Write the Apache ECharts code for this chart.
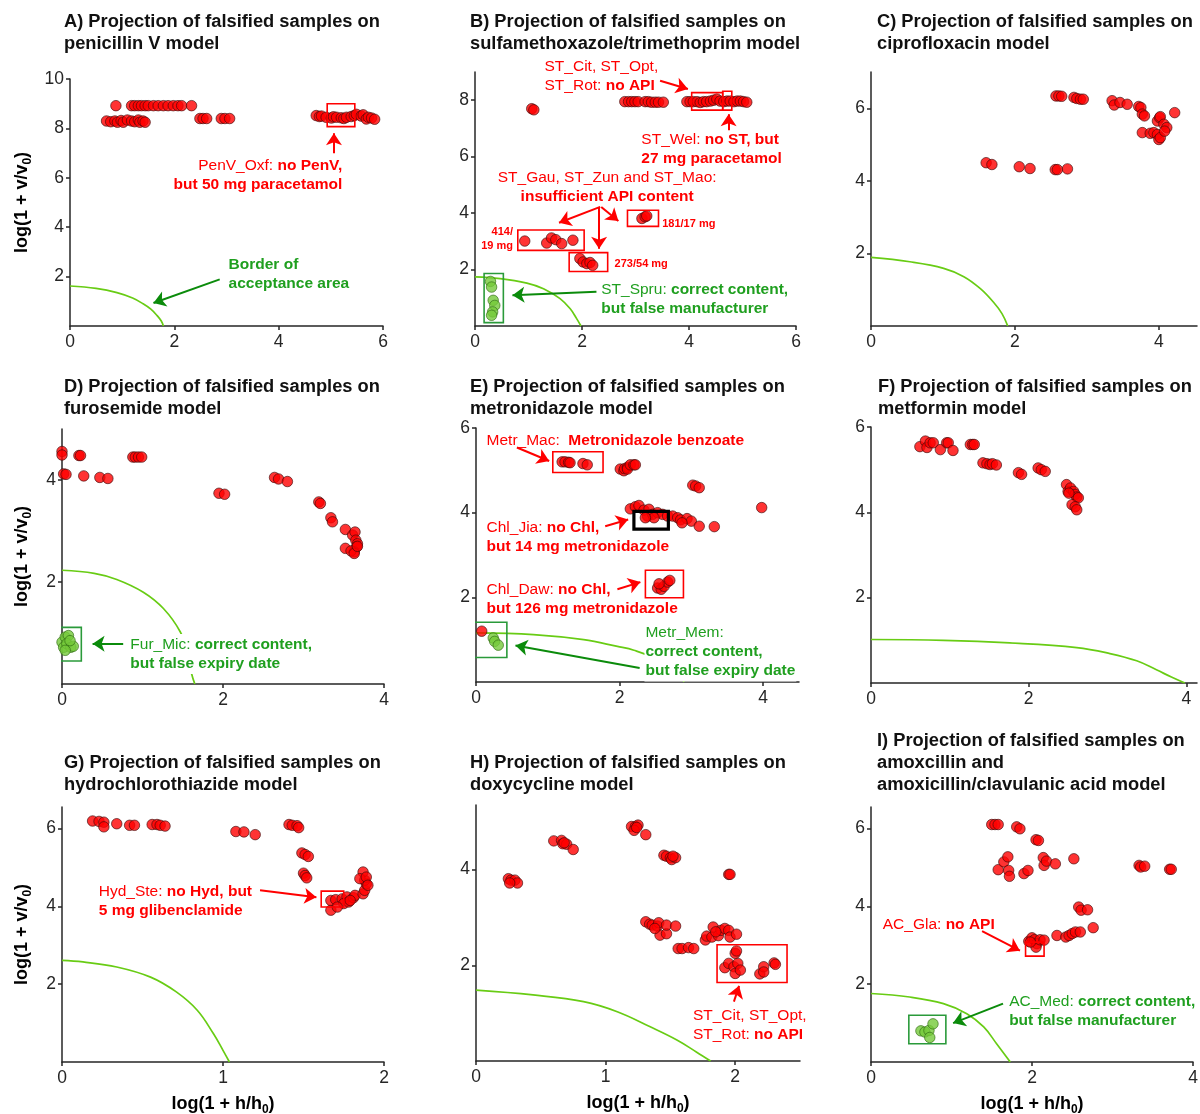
<!DOCTYPE html>
<html><head><meta charset="utf-8">
<script src="https://cdn.jsdelivr.net/npm/echarts@6/dist/echarts.min.js"></script>
<style>html,body{margin:0;padding:0;background:#fff}#c{width:1200px;height:1114px}</style>
</head><body><div id="c"></div>
<script>
// ---------------- data ----------------
const penvRed = [
[0.70,8.30],[0.78,8.27],[0.86,8.30],[0.91,8.25],[0.98,8.32],[1.02,8.25],[1.10,8.34],[1.18,8.30],[1.24,8.27],[1.31,8.34],[1.34,8.25],[1.40,8.30],[1.44,8.25],
[0.88,8.92],[1.18,8.92],[1.24,8.92],[1.31,8.92],[1.37,8.92],[1.44,8.92],[1.50,8.92],[1.60,8.92],[1.69,8.92],[1.79,8.92],[1.88,8.92],[1.98,8.92],[2.07,8.92],[2.14,8.92],[2.33,8.92],
[2.49,8.40],[2.55,8.40],[2.62,8.40],[2.90,8.40],[2.97,8.40],[3.06,8.40],
[4.72,8.52],[4.78,8.48],[4.82,8.50],[4.91,8.45],[5.01,8.42],[5.05,8.47],[5.11,8.45],[5.20,8.43],[5.25,8.40],[5.30,8.45],[5.39,8.48],[5.45,8.52],[5.49,8.57],[5.58,8.50],[5.62,8.55],[5.68,8.38],[5.72,8.45],[5.78,8.42],[5.84,8.37]
];
const penvBorder = [[0,1.62],[0.5,1.52],[0.9,1.35],[1.2,1.13],[1.4,0.90],[1.55,0.68],[1.67,0.42],[1.75,0.20],[1.79,0]];

const stRed = [
[1.06,7.70],[1.10,7.66],
[2.80,7.95],[2.87,7.95],[2.93,7.95],[2.99,7.95],[3.05,7.95],
[3.18,7.95],[3.24,7.95],[3.30,7.93],[3.37,7.93],[3.43,7.93],[3.52,7.93],
[3.96,7.95],[4.02,7.95],[4.08,7.95],[4.15,7.95],[4.21,7.92],[4.27,7.95],[4.33,7.95],[4.40,7.97],[4.46,8.00],[4.52,8.04],[4.58,7.97],[4.65,7.95],[4.71,7.97],[4.77,7.97],[4.84,7.95],[4.90,7.97],[4.96,7.97],[5.02,7.95],[5.08,7.93],
[3.12,3.81],[3.18,3.87],[3.21,3.90],
[0.93,3.01],[1.34,2.94],[1.43,3.12],[1.51,3.06],[1.62,2.92],[1.83,3.04],
[1.96,2.39],[2.02,2.27],[2.09,2.21],[2.15,2.25],[2.20,2.15]
];
const stGreen = [[0.29,1.58],[0.31,1.38],[0.34,0.91],[0.37,0.73],[0.33,0.50],[0.31,0.38]];
const stBorder = [[0,1.74],[0.47,1.68],[0.97,1.52],[1.28,1.32],[1.59,0.97],[1.78,0.61],[1.90,0.26],[1.98,0]];

const ciproRed = [
[2.57,6.34],[2.61,6.34],[2.65,6.33],[2.82,6.30],[2.86,6.27],[2.91,6.25],[2.95,6.25],
[3.35,6.21],[3.38,6.09],[3.46,6.16],[3.56,6.11],
[3.72,6.05],[3.75,6.02],[3.77,5.84],[3.80,5.79],
[3.77,5.33],[3.88,5.31],[3.93,5.33],[3.98,5.28],[4.00,5.14],[4.02,5.19],[3.98,5.65],[4.01,5.74],[4.02,5.77],[4.07,5.56],[4.11,5.47],[4.08,5.37],[4.22,5.88],
[1.60,4.50],[1.68,4.45],[2.06,4.39],[2.21,4.34],[2.56,4.31],[2.59,4.31],[2.73,4.33]
];
const ciproBorder = [[0,1.89],[0.54,1.77],[1.01,1.59],[1.29,1.36],[1.52,1.03],[1.70,0.66],[1.82,0.34],[1.90,0]];

const furoRed = [
[0.00,4.56],[0.00,4.49],[0.02,4.12],[0.05,4.11],[0.21,4.48],[0.23,4.48],[0.27,4.08],[0.47,4.05],[0.57,4.03],
[0.88,4.45],[0.91,4.45],[0.95,4.45],[0.99,4.45],
[1.95,3.74],[2.02,3.72],
[2.64,4.05],[2.69,4.02],[2.80,3.97],
[3.19,3.57],[3.21,3.54],
[3.34,3.26],[3.36,3.18],
[3.52,3.03],[3.52,2.66],[3.61,2.92],[3.64,2.98],[3.65,2.82],[3.67,2.75],[3.66,2.69],[3.63,2.59],[3.59,2.61],[3.63,2.56],[3.67,2.70]
];
const furoGreen = [[0.00,0.82],[0.04,0.92],[0.08,0.95],[0.02,0.72],[0.06,0.79],[0.11,0.72],[0.14,0.74],[0.10,0.85],[0.04,0.66]];
const furoBorder = [[0,2.23],[0.40,2.17],[0.68,2.05],[1.01,1.80],[1.26,1.48],[1.47,1.02],[1.56,0.60],[1.61,0.20],[1.65,0]];

const metroRed = [
[1.20,5.20],[1.24,5.20],[1.29,5.19],[1.31,5.18],[1.49,5.16],[1.55,5.13],
[2.01,5.03],[2.06,4.99],[2.07,5.04],[2.11,5.07],[2.11,5.03],[2.15,5.13],[2.20,5.13],[2.22,5.13],
[3.02,4.65],[3.06,4.63],[3.11,4.59],
[3.98,4.12],
[2.15,4.09],[2.22,4.14],[2.27,4.17],[2.34,4.06],[2.41,4.08],[2.39,3.92],[2.46,3.96],[2.53,4.00],[2.60,3.96],[2.67,3.92],[2.74,3.92],[2.81,3.88],[2.85,3.83],[2.94,3.86],[3.00,3.80],[3.11,3.68],[3.32,3.67],[2.87,3.76],[2.48,3.88],[2.36,3.88],
[2.53,2.22],[2.58,2.19],[2.62,2.26],[2.67,2.36],[2.70,2.40],[2.55,2.32],
[0.08,1.20]
];
const metroGreen = [[0.24,1.04],[0.26,0.96],[0.31,0.87]];
const metroBorder = [[0,1.16],[0.80,1.12],[1.50,1.00],[1.97,0.84],[2.20,0.75],[2.57,0.50],[2.81,0.21],[2.90,0]];

const metfRed = [
[0.62,5.54],[0.69,5.67],[0.71,5.52],[0.75,5.63],[0.79,5.63],[0.88,5.47],[0.96,5.63],[0.98,5.63],[1.04,5.45],
[1.26,5.59],[1.29,5.59],[1.31,5.59],
[1.42,5.16],[1.47,5.14],[1.51,5.12],[1.54,5.14],[1.59,5.11],
[1.87,4.93],[1.91,4.89],
[2.12,5.04],[2.16,5.00],[2.21,4.96],
[2.48,4.65],[2.50,4.49],[2.53,4.57],[2.57,4.49],[2.59,4.42],[2.61,4.36],[2.63,4.34],[2.55,4.18],[2.59,4.13],[2.61,4.06],[2.51,4.45]
];
const metfBorder = [[0,1.02],[0.92,1.00],[1.76,0.94],[2.61,0.83],[3.03,0.69],[3.37,0.52],[3.62,0.31],[3.81,0.14],[3.98,0]];

const hydRed = [
[0.19,6.19],[0.23,6.18],[0.26,6.16],[0.26,6.04],[0.34,6.12],[0.42,6.08],[0.45,6.08],[0.56,6.10],[0.59,6.10],[0.61,6.08],[0.64,6.06],
[1.08,5.92],[1.13,5.91],[1.20,5.84],
[1.41,6.10],[1.43,6.08],[1.46,6.07],[1.47,6.02],
[1.49,5.37],[1.51,5.33],[1.53,5.28],
[1.50,4.85],[1.51,4.79],[1.52,4.73],
[1.67,3.90],[1.67,4.15],[1.70,4.17],[1.74,4.19],[1.77,4.24],[1.75,4.07],[1.78,4.11],[1.81,4.22],[1.82,4.28],[1.87,4.32],[1.88,4.41],[1.89,4.58],[1.88,4.67],[1.87,4.88],[1.85,4.71],[1.89,4.75],[1.90,4.54],[1.71,3.98],[1.79,4.15]
];
const hydBorder = [[0,2.61],[0.13,2.57],[0.34,2.44],[0.55,2.18],[0.71,1.80],[0.84,1.33],[0.94,0.73],[1.00,0.30],[1.04,0]];

const doxyRed = [
[0.25,3.81],[0.27,3.78],[0.30,3.78],[0.32,3.72],[0.26,3.72],
[0.60,4.60],[0.66,4.61],[0.67,4.54],[0.70,4.53],[0.75,4.42],[0.68,4.56],
[1.20,4.90],[1.23,4.90],[1.25,4.93],[1.22,4.82],[1.24,4.88],[1.31,4.73],
[1.45,4.30],[1.47,4.28],[1.50,4.25],[1.51,4.21],[1.54,4.25],[1.52,4.28],
[1.95,3.90],[1.96,3.90],
[1.31,2.91],[1.34,2.86],[1.36,2.84],[1.40,2.82],[1.41,2.89],[1.42,2.63],[1.47,2.66],[1.47,2.84],[1.54,2.82],[1.38,2.77],
[1.56,2.35],[1.59,2.35],[1.64,2.37],[1.68,2.35],
[1.77,2.53],[1.78,2.61],[1.82,2.59],[1.83,2.80],[1.87,2.62],[1.89,2.73],[1.92,2.77],[1.95,2.73],[1.96,2.59],[2.01,2.65],[1.85,2.70],
[1.92,1.95],[1.95,2.04],[1.99,1.97],[2.00,1.83],[2.02,2.04],[2.04,1.90],[2.00,2.25],[2.01,2.30],[2.19,1.82],[2.22,1.97],[2.22,1.86],[2.30,2.05],[2.31,2.02]
];
const doxyBorder = [[0,1.48],[0.44,1.38],[0.83,1.24],[1.09,1.03],[1.34,0.72],[1.55,0.44],[1.70,0.19],[1.81,0]];

const amoxRed = [
[1.50,6.10],[1.54,6.10],[1.58,6.10],
[1.81,6.04],[1.85,5.99],
[2.05,5.71],[2.08,5.69],
[1.58,4.94],[1.65,5.14],[1.70,5.27],[1.71,4.92],[1.72,4.77],[1.90,4.84],[1.95,4.92],
[2.14,5.25],[2.15,5.05],[2.18,5.16],[2.29,5.09],[2.52,5.22],
[3.33,5.05],[3.35,5.01],[3.40,5.03],[3.71,4.95],[3.73,4.95],
[2.58,3.98],[2.61,3.90],[2.69,3.91],[2.76,3.45],
[1.96,3.10],[2.00,3.19],[2.03,3.14],[2.06,3.04],[2.05,2.95],[2.10,3.14],[2.15,3.13],[2.31,3.25],[2.42,3.21],[2.46,3.25],[2.50,3.30],[2.54,3.34],[2.60,3.34],[1.98,3.08]
];
const amoxGreen = [[0.62,0.80],[0.67,0.77],[0.72,0.81],[0.73,0.63],[0.77,0.98]];
const amoxBorder = [[0,1.76],[0.48,1.67],[0.90,1.50],[1.19,1.24],[1.40,0.90],[1.56,0.47],[1.73,0]];

// tick labels
const ticks0246 = [0,2,4,6];
const ticks024 = [0,2,4];
const ticks012 = [0,1,2];
const yTicksA = [2,4,6,8,10];
const yTicks2468 = [2,4,6,8];
const yTicks246 = [2,4,6];
const yTicks24 = [2,4];

const titles = [
 'A) Projection of falsified samples on\npenicillin V model',
 'B) Projection of falsified samples on\nsulfamethoxazole/trimethoprim model',
 'C) Projection of falsified samples on\nciprofloxacin model',
 'D) Projection of falsified samples on\nfurosemide model',
 'E) Projection of falsified samples on\nmetronidazole model',
 'F) Projection of falsified samples on\nmetformin model',
 'G) Projection of falsified samples on\nhydrochlorothiazide model',
 'H) Projection of falsified samples on\ndoxycycline model',
 'I) Projection of falsified samples on\namoxcillin and\namoxicillin/clavulanic acid model'
];

// ---------------- styles ----------------
const FF = '"Liberation Sans", Arial, Helvetica, sans-serif';
const AX = '#262626';
const RED = '#ff0000', GTXT = '#1f9f1f', GARW = '#0b8b0b', GBOX = '#2a9a3a', CURVE = '#68cc14';
const FS = 15.5, LH = 19;
const rich = {
  n:{color:RED,fontSize:FS,lineHeight:LH,fontFamily:FF},
  b:{color:RED,fontSize:FS,lineHeight:LH,fontFamily:FF,fontWeight:'bold'},
  g:{color:GTXT,fontSize:FS,lineHeight:LH,fontFamily:FF},
  gb:{color:GTXT,fontSize:FS,lineHeight:LH,fontFamily:FF,fontWeight:'bold'},
  s:{color:RED,fontSize:11,lineHeight:14,fontFamily:FF,fontWeight:'bold'}
};
function txt(x,y,fmt,pos,bg){
  return {coord:[x,y], symbol:'circle', symbolSize:1, itemStyle:{color:'rgba(0,0,0,0)'},
    label:{show:true, position:pos||'right', distance:0, formatter:fmt, rich:rich,
      backgroundColor: bg ? '#ffffff' : 'transparent', padding: bg ? [1,1,1,1] : 0}};
}
function arrow(x1,y1,x2,y2,c){ return [{coord:[x1,y1], lineStyle:{color:c||RED,width:2,type:'solid'}},{coord:[x2,y2]}]; }
function box(x1,y1,x2,y2,c,w){ return {rect:[[x1,y1],[x2,y1],[x2,y2],[x1,y2],[x1,y1]], color:c||RED, width:w||1.6}; }

const panels = [
 {grid:{left:70,top:79,width:313,height:247}, xMax:6, yMax:10, xt:ticks0246, yt:yTicksA, red:penvRed, green:null, border:penvBorder, tl:[64,11],
  boxes:[box(4.93,8.07,5.46,9.0)],
  arrows:[arrow(5.06,6.99,5.06,7.80), arrow(2.87,1.89,1.60,0.93,GARW)],
  texts:[txt(5.23,6.09,'{n|PenV_Oxf: }{b|no PenV,}\n{b|but 50 mg paracetamol}','left'),
         txt(3.03,2.11,'{gb|Border of}\n{gb|acceptance area}','right')]},
 {grid:{left:475,top:72,width:321,height:254}, xMax:6, yMax:9, xt:ticks0246, yt:yTicks2468, red:stRed, green:stGreen, border:stBorder, tl:[470,11],
  boxes:[box(4.05,7.65,4.63,8.27),box(4.63,7.65,4.80,8.32),box(2.85,3.53,3.43,4.10),box(0.80,2.68,2.04,3.40),box(1.76,1.93,2.48,2.60),box(0.17,0.12,0.53,1.86,GBOX)],
  arrows:[arrow(3.46,8.69,3.98,8.40),arrow(4.74,6.94,4.74,7.50),arrow(2.34,4.22,1.57,3.66),arrow(2.32,4.22,2.32,2.74),arrow(2.36,4.22,2.68,3.72),arrow(2.27,1.21,0.70,1.09,GARW)],
  texts:[txt(1.29,8.86,'{n|ST_Cit, ST_Opt,}\n{n|ST_Rot: }{b|no API}','right'),
         txt(3.10,6.26,'{n|ST_Wel: }{b|no ST, but}\n{b|27 mg paracetamol}','right'),
         txt(2.47,4.90,'{n|ST_Gau, ST_Zun and ST_Mao:}\n{b|insufficient API content}','inside'),
         txt(3.49,3.63,'{s|181/17 mg}','right'),
         txt(0.72,3.07,'{s|414/}\n{s|19 mg}','left'),
         txt(2.60,2.21,'{s|273/54 mg}','right'),
         txt(2.35,0.95,'{g|ST_Spru: }{gb|correct content,}\n{gb|but false manufacturer}','right')]},
 {grid:{left:871,top:72,width:326,height:254}, xMax:4.53, yMax:7, xt:ticks024, yt:yTicks246, red:ciproRed, green:null, border:ciproBorder, tl:[877,11],
  boxes:[], arrows:[], texts:[]},
 {grid:{left:62,top:429,width:322,height:255}, xMax:4, yMax:5, xt:ticks024, yt:yTicks24, red:furoRed, green:furoGreen, border:furoBorder, tl:[64,376],
  boxes:[box(-0.12,0.45,0.24,1.11,GBOX)],
  arrows:[arrow(0.76,0.79,0.38,0.79,GARW)],
  texts:[txt(0.83,0.59,'{g|Fur_Mic: }{gb|correct content,}\n{gb|but false expiry date}','right',true)]},
 {grid:{left:476,top:428,width:323,height:254}, xMax:4.5, yMax:6, xt:ticks024, yt:yTicks246, red:metroRed, green:metroGreen, border:metroBorder, tl:[470,376],
  boxes:[box(1.07,4.95,1.77,5.44),box(2.20,3.61,2.68,4.03,'#000000',3.2),box(2.36,1.99,2.89,2.64),box(-0.07,0.58,0.43,1.41,GBOX)],
  arrows:[arrow(0.57,5.54,1.02,5.22),arrow(1.80,3.68,2.12,3.84),arrow(1.97,2.19,2.29,2.36),arrow(2.28,0.33,0.55,0.86,GARW)],
  texts:[txt(0.14,5.70,'{n|Metr_Mac:  }{b|Metronidazole benzoate}','right'),
         txt(0.14,3.41,'{n|Chl_Jia: }{b|no Chl,}\n{b|but 14 mg metronidazole}','right'),
         txt(0.14,1.96,'{n|Chl_Daw: }{b|no Chl,}\n{b|but 126 mg metronidazole}','right'),
         txt(2.34,0.71,'{g|Metr_Mem:}\n{gb|correct content,}\n{gb|but false expiry date}','right',true)]},
 {grid:{left:871,top:427,width:326,height:256}, xMax:4.135, yMax:6, xt:ticks024, yt:yTicks246, red:metfRed, green:null, border:metfBorder, tl:[878,376],
  boxes:[], arrows:[], texts:[]},
 {grid:{left:62,top:807,width:322,height:255}, xMax:2, yMax:6.55, xt:ticks012, yt:yTicks246, red:hydRed, green:null, border:hydBorder, tl:[64,752],
  boxes:[box(1.61,3.98,1.75,4.39)],
  arrows:[arrow(1.23,4.41,1.58,4.23)],
  texts:[txt(0.225,4.14,'{n|Hyd_Ste: }{b|no Hyd, but}\n{b|5 mg glibenclamide}','right')]},
 {grid:{left:476,top:805,width:324,height:256}, xMax:2.5, yMax:5.35, xt:ticks012, yt:yTicks24, red:doxyRed, green:null, border:doxyBorder, tl:[470,752],
  boxes:[box(1.86,1.64,2.40,2.43)],
  arrows:[arrow(1.99,1.24,2.03,1.57)],
  texts:[txt(1.67,0.75,'{n|ST_Cit, ST_Opt,}\n{n|ST_Rot: }{b|no API}','right')]},
 {grid:{left:871,top:807,width:322,height:255}, xMax:4, yMax:6.55, xt:ticks024, yt:yTicks246, red:amoxRed, green:amoxGreen, border:amoxBorder, tl:[877,730],
  boxes:[box(1.92,2.72,2.15,3.08),box(0.47,0.47,0.93,1.20,GBOX)],
  arrows:[arrow(1.38,3.36,1.85,2.86),arrow(1.64,1.50,1.02,1.00,GARW)],
  texts:[txt(0.14,3.53,'{n|AC_Gla: }{b|no API}','right'),
         txt(1.71,1.30,'{g|AC_Med: }{gb|correct content,}\n{gb|but false manufacturer}','right')]}
];

const nameRich = {
  a:{fontSize:18,fontWeight:'bold',color:'#000',lineHeight:24,fontFamily:FF},
  s:{fontSize:12,fontWeight:'bold',color:'#000',lineHeight:12,verticalAlign:'bottom',fontFamily:FF}
};

const option = {animation:false, backgroundColor:'#ffffff', textStyle:{fontFamily:FF},
  title:[], grid:[], xAxis:[], yAxis:[], series:[]};

panels.forEach((p,i)=>{
  option.title.push({text:titles[i], left:p.tl[0], top:p.tl[1], padding:0,
    textStyle:{fontSize:18.3,fontWeight:'bold',color:'#111',lineHeight:22,fontFamily:FF}});
  option.grid.push(Object.assign({containLabel:false, outerBoundsMode:'none'}, p.grid));
  const col = i%3, row = Math.floor(i/3);
  const axisCommon = {
    axisLine:{show:true,onZero:false,lineStyle:{color:AX,width:1.5}},
    splitLine:{show:false}
  };
  option.xAxis.push(Object.assign({type:'value', gridIndex:i, min:0, max:p.xMax,
    axisTick:{show:true,length:4,lineStyle:{color:AX,width:1.5},customValues:p.xt},
    axisLabel:{color:AX,fontSize:17.5,margin:7,fontFamily:FF,customValues:p.xt},
    name: row===2 ? '{a|log(1 + h/h}{s|0}{a|)}' : '',
    nameLocation:'middle', nameGap:30, nameTextStyle:{rich:nameRich}
  }, axisCommon));
  option.yAxis.push(Object.assign({type:'value', gridIndex:i, min:0, max:p.yMax,
    axisTick:{show:true,length:4,lineStyle:{color:AX,width:1.5},customValues:p.yt},
    axisLabel:{color:AX,fontSize:17.5,margin:6,fontFamily:FF,customValues:p.yt},
    name: col===0 ? '{a|log(1 + v/v}{s|0}{a|)}' : '',
    nameLocation:'middle', nameRotate:90, nameGap: (i===0 ? 36 : 28), nameTextStyle:{rich:nameRich}
  }, axisCommon));
  option.series.push({type:'line', xAxisIndex:i, yAxisIndex:i, data:p.border, smooth:0.4,
    showSymbol:false, symbol:'none', silent:true, z:2, clip:true, lineStyle:{color:CURVE,width:1.7}});
  if (p.green) option.series.push({type:'scatter', xAxisIndex:i, yAxisIndex:i, data:p.green, symbolSize:10.5, silent:true, z:3, clip:false,
    itemStyle:{color:'#74c93a',borderColor:'#2e6a12',borderWidth:0.8}});
  option.series.push({type:'scatter', xAxisIndex:i, yAxisIndex:i, data:p.red, symbolSize:10.5, silent:true, z:3, clip:false,
    itemStyle:{color:'#ff0000',borderColor:'#3b0a0a',borderWidth:0.8},
    markLine:{silent:true, z:5, symbol:['none','arrow'], symbolSize:12, label:{show:false}, data:p.arrows},
    markPoint:{silent:true, z:6, data:p.texts}
  });
  p.boxes.forEach(b=>{
    option.series.push({type:'line', xAxisIndex:i, yAxisIndex:i, data:b.rect, showSymbol:false, symbol:'none',
      silent:true, z:4, clip:false, lineStyle:{color:b.color,width:b.width,join:'miter',cap:'square'}});
  });
});

const chart = echarts.init(document.getElementById('c'), null, {renderer:'canvas'});
chart.setOption(option);
</script></body></html>
